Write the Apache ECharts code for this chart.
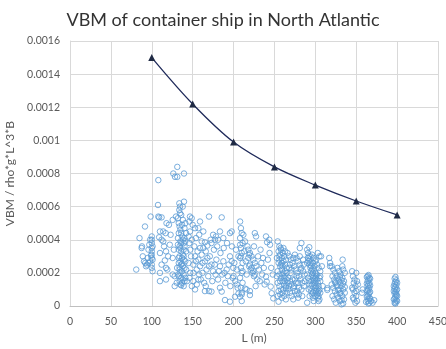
<!DOCTYPE html>
<html>
<head>
<meta charset="utf-8">
<script src="https://cdn.jsdelivr.net/npm/echarts@6/dist/echarts.min.js"></script>
<style>html,body{margin:0;padding:0;background:#fff}#c{width:446px;height:349px}</style>
</head>
<body>
<div id="c"></div>
<script>
// Rule curve (triangles)
var ruleL = [100, 150, 200, 250, 300, 350, 400];
var ruleVBM = [0.00150, 0.00122, 0.00099, 0.00084, 0.00073, 0.000634, 0.00055];

// Axis ticks
var xTicks = [0, 50, 100, 150, 200, 250, 300, 350, 400, 450];
var yTicks = [0, 0.0002, 0.0004, 0.0006, 0.0008, 0.001, 0.0012, 0.0014, 0.0016];

// Ship data [L, VBM], grouped by length range
var ships080_130 = [
[81,2.2e-4],[85,4.1e-4],[87.6,3.5e-4],[88,3.6e-4],[89,3.0e-4],[90.5,2.7e-4],[91.7,4.8e-4],[92,2.6e-4],[93,2.4e-4],[94,2.5e-4],
[95,2.9e-4],[95.8,2.6e-4],[96,3.4e-4],[97,3.7e-4],[98,4.0e-4],[98,2.7e-4],[98.6,5.4e-4],[99,3.05e-4],[100,4.2e-4],[100,4.0e-4],
[100,3.8e-4],[100,3.5e-4],[100,3.3e-4],[100,3.1e-4],[100,2.9e-4],[100,2.5e-4],[100,2.3e-4],[101,2.1e-4],[101,2.8e-4],[101,3.6e-4],
[107.6,6.1e-4],[108,7.6e-4],[108,5.4e-4],[109,5.35e-4],[112,5.35e-4],[110,4.5e-4],[114,4.5e-4],[117,4.4e-4],[109,4.15e-4],[112,4.0e-4],
[114,3.9e-4],[110,3.2e-4],[117.4,3.3e-4],[116,2.75e-4],[112,2.5e-4],[117.4,2.3e-4],[110,1.5e-4],[117.4,1.6e-4],[118,5.0e-4],[121,4.9e-4],
[125.6,5.2e-4],[129.6,5.4e-4],[122,3.7e-4],[125.6,2.9e-4],[125.6,1.9e-4],[128,1.8e-4],[128,1.2e-4],[130.5,1.4e-4],[110,2.0e-4],[115,3.6e-4],
[119,2.2e-4],[123,4.3e-4],[120,3.0e-4],[127,3.4e-4]
];
var ships130_145 = [
[126.3,8.0e-4],[128.4,7.8e-4],[131.2,8.4e-4],[131.2,7.8e-4],[139.4,8.0e-4],[133.7,6.2e-4],[134.5,6.0e-4],[139.4,6.3e-4],[137.8,6.0e-4],[133.7,5.8e-4],
[134.5,5.6e-4],[132,5.3e-4],[133,5.0e-4],[134,4.8e-4],[135,4.6e-4],[136,4.4e-4],[137,4.2e-4],[138,4.0e-4],[139,3.8e-4],[140,3.6e-4],
[135,3.5e-4],[133,3.4e-4],[136,3.3e-4],[138,3.1e-4],[134,3.0e-4],[137,2.9e-4],[139,2.8e-4],[135,2.7e-4],[133,2.6e-4],[136,2.5e-4],
[138,2.4e-4],[140,2.3e-4],[134,2.2e-4],[137,2.1e-4],[135,2.0e-4],[139,1.9e-4],[133,1.8e-4],[136,1.7e-4],[138,1.6e-4],[134,1.5e-4],
[137,1.4e-4],[135,1.3e-4],[139,1.2e-4],[141,5.0e-4],[142,4.4e-4],[141,3.9e-4],[142,3.3e-4],[141,2.7e-4],[142,2.2e-4],[141,1.7e-4],
[143,1.5e-4],[132,4.1e-4],[132,3.7e-4],[131,2.3e-4],[132,1.9e-4],[140,4.7e-4],[138,5.2e-4],[136,5.5e-4],[135,3.9e-4],[139,3.4e-4],[134,2.35e-4],
[137,4.9e-4],[133,4.4e-4],[140,4.1e-4],[136,3.8e-4],[134,3.6e-4],[139,3.0e-4],[133,2.9e-4],[137,2.55e-4],[140,1.5e-4],[136,1.25e-4]
];
var ships145_200 = [
[146.7,5.4e-4],[148.8,5.3e-4],[145.9,5.1e-4],[150,4.9e-4],[146.7,4.5e-4],[152.9,4.7e-4],[157,4.7e-4],[159,5.1e-4],[170,5.4e-4],[185.5,5.35e-4],
[161,3.9e-4],[165,3.85e-4],[168,3.65e-4],[159,3.5e-4],[166,3.3e-4],[173,3.8e-4],[175,4.3e-4],[178.5,4.2e-4],[177.3,4.0e-4],[183.4,4.5e-4],
[187.5,4.1e-4],[195.6,4.4e-4],[197.7,4.5e-4],[152.9,3.0e-4],[157,2.8e-4],[161,3.1e-4],[150.8,2.5e-4],[159,2.4e-4],[155,2.2e-4],[165,2.7e-4],
[171,3.0e-4],[173,2.5e-4],[175,2.1e-4],[179,2.8e-4],[183.4,2.4e-4],[187.5,2.7e-4],[191.6,2.2e-4],[195.6,3.0e-4],[197.7,2.7e-4],[199.7,2.3e-4],
[150.8,1.5e-4],[155,1.3e-4],[152.9,1.0e-4],[165,0.9e-4],[170,0.9e-4],[173,0.87e-4],[183.4,1.1e-4],[185.5,0.87e-4],[189.5,0.36e-4],[195.6,0.26e-4],
[201.8,0.56e-4],[146,3.8e-4],[147,3.4e-4],[148,3.0e-4],[145,2.6e-4],[147,2.0e-4],[146,1.7e-4],[149,1.2e-4],[145,4.2e-4],[152,3.6e-4],
[154,4.1e-4],[156,3.3e-4],[158,1.9e-4],[160,1.6e-4],[162,2.0e-4],[163,4.5e-4],[164,1.4e-4],[167,2.2e-4],[169,1.8e-4],[172,4.0e-4],
[174,1.5e-4],[176,3.4e-4],[178,1.9e-4],[180,3.6e-4],[181,1.6e-4],[182,2.1e-4],[184,3.2e-4],[186,1.9e-4],[188,3.5e-4],[190,1.4e-4],
[192,3.8e-4],[193,1.8e-4],[194,2.5e-4],[196,1.2e-4],[198,3.6e-4],[199,1.7e-4],[157,1.6e-4],[163,3.5e-4],[168,2.9e-4],
[149,4.0e-4],[151,2.0e-4],[154,2.7e-4],[158,4.3e-4],[162,2.6e-4],[166,1.2e-4],[170,2.4e-4],[177,2.5e-4],[181,4.0e-4],[189,2.0e-4]
];
var ships200_250 = [
[208,5.1e-4],[209,4.7e-4],[210,4.4e-4],[208,4.1e-4],[211,3.8e-4],[209,3.5e-4],[210,3.2e-4],[208,2.9e-4],[211,2.6e-4],[209,2.3e-4],
[210,2.0e-4],[208,1.7e-4],[211,1.4e-4],[209,1.1e-4],[210,0.8e-4],[208,0.56e-4],[210,0.3e-4],[209,3.0e-4],[211,2.1e-4],[208,3.7e-4],
[218,3.4e-4],[220,3.2e-4],[222,3.0e-4],[224,2.8e-4],[226,2.6e-4],[219,2.4e-4],[221,2.2e-4],[223,2.0e-4],[225,1.8e-4],[218,2.9e-4],
[220,2.5e-4],[222,2.3e-4],[224,2.1e-4],[226,1.9e-4],[219,3.1e-4],[226,4.4e-4],[227.5,4.2e-4],[239.7,4.2e-4],[243.7,4.0e-4],[244.6,3.7e-4],
[241,3.85e-4],[239.7,1.77e-4],[245.4,1.17e-4],[246.6,0.77e-4],[248.6,0.46e-4],[240.5,1.47e-4],[216,1.0e-4],[220,0.9e-4],[214,1.05e-4],[210,0.7e-4],
[206,0.75e-4],[200,1.8e-4],[202,1.5e-4],[204,1.3e-4],[205,1.1e-4],[201,2.6e-4],[203,3.4e-4],[204,2.2e-4],[206,3.0e-4],[213,3.3e-4],
[215,2.7e-4],[216,1.9e-4],[228,2.4e-4],[230,3.0e-4],[231,2.2e-4],[233,3.4e-4],[234,2.6e-4],[235,1.9e-4],[236,2.9e-4],[232,1.5e-4],
[237,2.3e-4],[238,1.3e-4],[229,1.6e-4],[227,1.2e-4],[220,0.66e-4],[225,3.6e-4],[212,4.3e-4],[214,3.9e-4],[217,3.6e-4],[242,2.8e-4],
[246,2.3e-4],[248,1.9e-4],[244,3.2e-4]
];
var ships250_290 = [
[254,3.9e-4],[256,3.6e-4],[258,3.4e-4],[260,3.2e-4],[262,3.0e-4],[264,2.8e-4],[255,2.6e-4],[257,2.4e-4],[259,2.2e-4],[261,2.0e-4],
[263,1.8e-4],[265,1.6e-4],[254,1.4e-4],[256,1.2e-4],[258,1.0e-4],[260,0.8e-4],[262,0.6e-4],[264,0.4e-4],[255,0.26e-4],[257,3.1e-4],
[259,2.9e-4],[261,2.7e-4],[263,2.5e-4],[265,2.3e-4],[254,2.1e-4],[256,1.9e-4],[258,1.7e-4],[260,1.5e-4],[262,1.3e-4],[264,1.1e-4],
[255,0.9e-4],[257,0.7e-4],[259,0.5e-4],[261,3.5e-4],[263,3.3e-4],[265,2.0e-4],[256,2.8e-4],[258,2.5e-4],[260,1.9e-4],[262,1.5e-4],
[264,1.2e-4],[253,1.8e-4],[253,2.9e-4],[257.6,3.5e-4],
[266,3.2e-4],[268,3.0e-4],[270,2.8e-4],[272,2.6e-4],[274,2.4e-4],[276,2.2e-4],[278,2.0e-4],[280,1.8e-4],[282,1.6e-4],[284,1.4e-4],
[286,1.2e-4],[267,1.0e-4],[269,0.8e-4],[271,0.6e-4],[273,0.4e-4],[275,3.1e-4],[277,2.9e-4],[279,2.7e-4],[281,2.5e-4],[283,2.3e-4],
[285,2.1e-4],[287,1.9e-4],[267,1.7e-4],[269,1.5e-4],[271,1.3e-4],[273,1.1e-4],[275,0.9e-4],[277,0.7e-4],[279,0.5e-4],[281,3.0e-4],
[283,3.8e-4],[281,3.5e-4],[285,2.8e-4],[270,2.0e-4],[272,1.6e-4],[274,1.2e-4],[276,1.4e-4],[278,0.9e-4],[280,1.1e-4],[282,2.2e-4],
[284,0.6e-4],[286,2.5e-4],[268,2.3e-4],[266,1.4e-4],
[255,3.3e-4],[259,2.6e-4],[263,2.1e-4],[257,1.5e-4],[261,1.0e-4],[254,0.6e-4],[265,0.8e-4],[260,2.4e-4],[256,3.0e-4],[262,1.7e-4],
[269,2.5e-4],[273,2.9e-4],[277,1.8e-4],[271,2.2e-4],[279,1.4e-4],[283,1.0e-4],[275,1.6e-4],[268,1.2e-4],[287,1.5e-4],[280,0.7e-4]
];
var ships290_310 = [
[290,3.4e-4],[291,3.2e-4],[292,3.0e-4],[293,2.8e-4],[294,2.6e-4],[295,2.4e-4],[296,2.2e-4],[297,2.0e-4],[298,1.8e-4],[299,1.6e-4],
[300,1.4e-4],[301,1.2e-4],[302,1.0e-4],[303,0.8e-4],[304,0.6e-4],[305,0.4e-4],[290,0.2e-4],[291,2.9e-4],[292,2.7e-4],[293,2.5e-4],
[294,2.3e-4],[295,2.1e-4],[296,1.9e-4],[297,1.7e-4],[298,1.5e-4],[299,1.3e-4],[300,1.1e-4],[301,0.9e-4],[302,0.7e-4],[303,0.5e-4],
[304,0.3e-4],[305,3.0e-4],[292.6,3.55e-4],[303,3.2e-4],[296,3.1e-4],[298,2.9e-4],[300,2.7e-4],[302,2.5e-4],[304,2.3e-4],[306,2.1e-4],
[290,1.9e-4],[291,1.7e-4],[292,1.5e-4],[293,1.3e-4],[294,1.1e-4],[295,0.9e-4],[296,0.7e-4],[297,0.5e-4],[298,0.3e-4],[299,2.4e-4],
[300,2.0e-4],[301,1.8e-4],[302,1.6e-4],[303,1.4e-4],[304,1.2e-4],[305,1.0e-4],[306,0.8e-4],[300,0.6e-4],[295,1.5e-4],[297,2.6e-4],
[299,0.9e-4],[301,2.8e-4],[293,0.6e-4],[306,1.5e-4],
[290,2.6e-4],[294,3.0e-4],[298,2.2e-4],[302,1.9e-4],[296,1.3e-4],[300,1.7e-4],[304,0.9e-4],[292,1.0e-4],[297,0.8e-4],[305,1.7e-4]
];
var ships305_360 = [
[307,3.0e-4],[308,2.4e-4],[306,1.8e-4],[309,1.2e-4],[317,2.9e-4],[318,2.6e-4],[318,2.4e-4],[314.6,1.07e-4],[314.6,0.97e-4],
[320,2.4e-4],[322,2.2e-4],[324,2.0e-4],[326,1.8e-4],[328,1.6e-4],[330,1.4e-4],[332,1.2e-4],[334,1.0e-4],[336,0.8e-4],[321,0.6e-4],
[323,0.4e-4],[325,0.2e-4],[327,2.3e-4],[329,2.1e-4],[331,1.9e-4],[333,1.7e-4],[335,1.5e-4],[320,1.3e-4],[322,1.1e-4],[324,0.9e-4],
[326,0.7e-4],[328,0.5e-4],[330,0.3e-4],[332,0.1e-4],[334,2.2e-4],[336,2.0e-4],[321,1.8e-4],[323,1.6e-4],[325,1.4e-4],[327,1.2e-4],
[329,1.0e-4],[331,0.8e-4],[333,0.6e-4],[335,0.4e-4],[333.4,2.8e-4],[333,2.4e-4],[330,1.75e-4],[332,1.55e-4],[334,1.35e-4],[336,1.15e-4],
[328,0.95e-4],[330,0.75e-4],[332,0.35e-4],[334,0.15e-4],[326,1.25e-4],[324,1.45e-4],
[345,2.1e-4],[350,2.0e-4],[346,1.8e-4],[348,1.6e-4],[347,1.4e-4],[349,1.2e-4],[346,1.0e-4],[348,0.8e-4],[350,0.6e-4],[347,0.4e-4],
[349,0.2e-4],[351,1.5e-4],[345,1.1e-4],[350,0.9e-4],[346,0.5e-4],[358,1.0e-4],[357,0.8e-4],[352,1.3e-4],[351,0.3e-4]
];
var ships360_400 = [
[365,1.87e-4],[364,1.8e-4],[366,1.7e-4],[365,1.6e-4],[364,1.5e-4],[366,1.4e-4],[365,1.3e-4],[364,1.2e-4],[366,1.1e-4],[365,1.0e-4],
[364,0.9e-4],[366,0.8e-4],[365,0.7e-4],[364,0.6e-4],[366,0.5e-4],[365,0.4e-4],[364,0.3e-4],[366,0.2e-4],[363,1.35e-4],[367,1.25e-4],
[363,0.95e-4],[367,0.85e-4],[363,0.55e-4],[367,0.45e-4],[368,0.3e-4],[362,0.25e-4],[370,0.2e-4],[372,0.35e-4],[367,1.65e-4],[363,1.75e-4],
[365,0.15e-4],
[398,1.75e-4],[397,1.65e-4],[399,1.55e-4],[398,1.45e-4],[397,1.35e-4],[399,1.25e-4],[398,1.15e-4],[397,1.05e-4],[399,0.95e-4],[398,0.85e-4],
[397,0.75e-4],[399,0.65e-4],[398,0.55e-4],[397,0.45e-4],[399,0.35e-4],[398,0.25e-4],[397,0.18e-4],[400,1.0e-4],[396,0.9e-4],[400,0.6e-4],
[396,0.4e-4],[400,0.3e-4],[396,1.2e-4],[400,1.4e-4],[398,0.15e-4],[399,0.75e-4]
];

var shipData = [].concat(ships080_130, ships130_145, ships145_200, ships200_250,
  ships250_290, ships290_310, ships305_360, ships360_400);
var ruleData = ruleL.map(function (l, i) { return [l, ruleVBM[i]]; });

var chart = echarts.init(document.getElementById('c'), null, {renderer: 'canvas'});
var FONT = 'Lato, "Open Sans", sans-serif';
chart.setOption({
  animation: false,
  backgroundColor: '#ffffff',
  title: {
    text: 'VBM of container ship in North Atlantic',
    left: 'center', top: 6,
    textStyle: {fontFamily: FONT, fontSize: 18, fontWeight: 'normal', color: '#333333'}
  },
  grid: {left: 70, right: 8, top: 41, bottom: 43, outerBoundsMode: 'none', containLabel: false},
  xAxis: {
    type: 'value', min: xTicks[0], max: xTicks[xTicks.length - 1], interval: 50,
    name: 'L (m)', nameLocation: 'middle', nameGap: 25,
    nameTextStyle: {fontFamily: FONT, fontSize: 12, color: '#595959'},
    axisLine: {show: true, lineStyle: {color: '#bfbfbf'}},
    axisTick: {show: false},
    axisLabel: {fontFamily: FONT, fontSize: 10.5, color: '#595959', margin: 10},
    splitLine: {show: true, lineStyle: {color: '#d9d9d9'}}
  },
  yAxis: {
    type: 'value', min: yTicks[0], max: yTicks[yTicks.length - 1], interval: 0.0002,
    name: 'VBM / rho*g*L^3*B', nameLocation: 'middle', nameGap: 46, nameRotate: 90,
    nameTextStyle: {fontFamily: FONT, fontSize: 12, color: '#595959'},
    axisLine: {show: true, lineStyle: {color: '#d9d9d9'}},
    axisTick: {show: false},
    axisLabel: {fontFamily: FONT, fontSize: 10.5, color: '#595959', margin: 10,
      formatter: function (v) { return String(+v.toFixed(4)); }},
    splitLine: {show: true, lineStyle: {color: '#d9d9d9'}}
  },
  series: [
    {
      type: 'scatter', data: shipData, symbol: 'circle', symbolSize: 5.5,
      itemStyle: {color: 'rgba(255,255,255,0)', borderColor: '#5b9bd5', borderWidth: 1},
      z: 2
    },
    {
      type: 'line', data: ruleData, smooth: 0.35, symbol: 'triangle', symbolSize: 7,
      lineStyle: {color: '#1f2a5a', width: 1.3},
      itemStyle: {color: '#1f2a44'},
      z: 3
    }
  ]
});
</script>
</body>
</html>
